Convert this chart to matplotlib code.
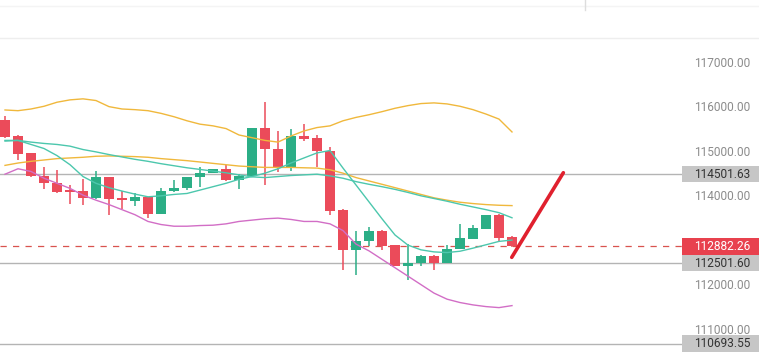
import matplotlib.pyplot as plt
import matplotlib.transforms as mtransforms
import numpy as np

plt.rcParams['font.family'] = ['Roboto', 'DejaVu Sans']

# OHLC
opens = [115717, 115352, 114973, 114464, 114312, 114153, 114130, 113956, 114442, 113956,
         113910, 113994, 113614, 114115, 114183, 114434, 114525, 114609, 114373, 114464,
         115542, 115079, 114654, 115360, 115315, 115034, 113698, 112794, 112999, 113235,
         112908, 112437, 112513, 112673, 112513, 112817, 113045, 113272, 113576, 113083]
highs = [115815, 115383, 114985, 114654, 114601, 114259, 114396, 114563, 114450, 114123,
         114085, 114000, 114199, 114373, 114450, 114654, 114615, 114700, 114517, 115550,
         116134, 115466, 115512, 115626, 115383, 115110, 113728, 113235, 113311, 113240,
         112915, 112931, 112680, 112680, 112908, 113386, 113371, 113583, 113614, 113121]
lows = [115320, 114821, 114449, 114161, 114085, 113842, 113804, 113950, 113591, 113728,
        113789, 113515, 113605, 114110, 114145, 114221, 114520, 114350, 114161, 114455,
        114252, 114548, 114563, 115246, 114654, 113591, 112346, 112233, 112893, 112802,
        112430, 112134, 112437, 112346, 112505, 112810, 113040, 113265, 112969, 112875]
closes = [115337, 114958, 114464, 114297, 114108, 114108, 113956, 114442, 113941, 113918,
          113994, 113614, 114130, 114199, 114442, 114525, 114609, 114366, 114464, 115542,
          115072, 114654, 115360, 115299, 115034, 113682, 112794, 113007, 113235, 112893,
          112437, 112498, 112673, 112513, 112832, 113060, 113295, 113576, 113068, 112882.26]

upper_band = [115945, 115929, 115967, 116028, 116119, 116172, 116195, 116157, 116020, 115967,
              115952, 115929, 115869, 115793, 115702, 115626, 115588, 115527, 115383, 115322,
              115261, 115223, 115360, 115474, 115550, 115588, 115702, 115778, 115838, 115907,
              115983, 116043, 116089, 116104, 116081, 116028, 115952, 115853, 115740, 115451]
slow_ma = [114700, 114753, 114791, 114821, 114852, 114867, 114882, 114905, 114912, 114905,
           114897, 114882, 114852, 114829, 114806, 114776, 114745, 114715, 114685, 114669,
           114654, 114654, 114654, 114646, 114639, 114601, 114525, 114426, 114350, 114275,
           114199, 114123, 114047, 113971, 113918, 113872, 113842, 113819, 113804, 113796]
mid_band = [115261, 115261, 115223, 115193, 115170, 115132, 115056, 115003, 114943, 114889,
            114836, 114791, 114738, 114692, 114646, 114609, 114571, 114533, 114487, 114442,
            114426, 114449, 114472, 114487, 114502, 114464, 114411, 114335, 114275, 114221,
            114161, 114092, 114016, 113956, 113895, 113827, 113766, 113705, 113637, 113523]
fast_ma = [115246, 115261, 115170, 115079, 114920, 114715, 114449, 114297, 114199, 114123,
           114054, 113994, 114016, 114047, 114069, 114145, 114221, 114297, 114388, 114449,
           114525, 114624, 114753, 114867, 114980, 115034, 114639, 114259, 113880, 113500,
           113136, 112908, 112802, 112756, 112741, 112771, 112840, 112916, 112992, 113022]
lower_band = [114502, 114624, 114563, 114411, 114297, 114183, 114032, 113918, 113819, 113705,
              113591, 113440, 113371, 113333, 113333, 113348, 113356, 113386, 113440, 113470,
              113500, 113515, 113485, 113440, 113440, 113386, 113235, 112931, 112779, 112589,
              112400, 112210, 112020, 111830, 111694, 111618, 111565, 111527, 111504, 111549]

level_lines = [114501.63, 112501.60, 110693.55]
last_price = 112882.26
tick_values = [117000, 116000, 115000, 114000, 112000, 111000]
arrow_x = [38.98, 42.95]
arrow_y = [112634, 114535]

RED = '#eb4b5a'
GREEN = '#2bae86'

fig = plt.figure(figsize=(7.59, 3.62), dpi=100)
ax = fig.add_axes([0, 0, 1, 1])
ax.set_xlim(-0.385, 58.0)
ax.set_ylim(110282, 118416)
ax.axis('off')

x = np.arange(len(opens))
o = np.array(opens)
c = np.array(closes)
cols = [GREEN if cc >= oo else RED for oo, cc in zip(o, c)]

ax.vlines(x, lows, highs, colors=cols, linewidth=1.1, zorder=2)
body_h = np.maximum(np.abs(c - o), 25)
body_bot = np.minimum(o, c)
ax.bar(x, body_h, bottom=body_bot, width=0.74, color=cols, linewidth=0, zorder=3)

ax.plot(x, upper_band, color='#f0b83c', lw=1.0, zorder=4)
ax.plot(x, slow_ma, color='#f0b83c', lw=1.0, zorder=4)
ax.plot(x, mid_band, color='#4cc7ad', lw=1.0, zorder=4)
ax.plot(x, fast_ma, color='#4cc7ad', lw=1.0, zorder=4)
ax.plot(x, lower_band, color='#d26ec6', lw=1.0, zorder=4)

# horizontal levels
xe = 682 / 759
trans = mtransforms.blended_transform_factory(ax.transAxes, ax.transData)
for lv in level_lines:
    ax.plot([0, xe], [lv, lv], color='#b4b4b4', lw=1.0, transform=trans, zorder=1)
ax.plot([0, xe], [last_price, last_price], color='#d9534f', lw=0.9,
        dashes=(5, 5), transform=trans, zorder=1)

# red arrow line
ax.plot(arrow_x, arrow_y, color='#e0202e', lw=2.6, solid_capstyle='round', zorder=5)

# right-side price labels
tx = 750 / 759
for tv in tick_values:
    ax.text(tx, tv, f'{tv:.2f}', transform=trans, ha='right', va='center',
            fontsize=8.6, color='#8c8c8c')

for lv in level_lines:
    ax.text(tx, lv, f'{lv:.2f}', transform=trans, ha='right', va='center',
            fontsize=8.6, color='#333333', zorder=7)
    ax.add_patch(plt.Rectangle((xe, lv - 185), 1 - xe, 370, transform=trans,
                               color='#c6c6c6', lw=0, zorder=6))
ax.text(tx, last_price, f'{last_price:.2f}', transform=trans, ha='right', va='center',
        fontsize=8.6, color='white', zorder=7)
ax.add_patch(plt.Rectangle((xe, last_price - 185), 1 - xe, 370, transform=trans,
                           color='#e8414e', lw=0, zorder=6))

# faint top ui lines
fig.add_artist(plt.Line2D([0, 1], [1 - 38 / 362, 1 - 38 / 362], color='#eeeeee', lw=1))
fig.add_artist(plt.Line2D([0, 1], [1 - 6 / 362, 1 - 6 / 362], color='#f4f4f4', lw=1))
fig.add_artist(plt.Line2D([585 / 759, 585 / 759], [1, 1 - 10 / 362], color='#dddddd', lw=1))

fig.savefig('out.png', dpi=100)
